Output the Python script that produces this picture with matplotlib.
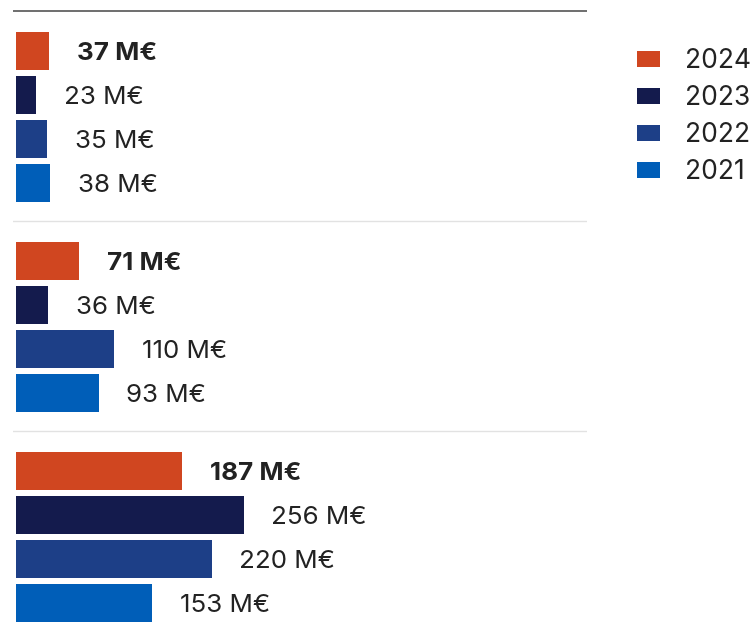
import matplotlib.pyplot as plt
from matplotlib.patches import Patch

plt.rcParams['font.family'] = ['Inter', 'DejaVu Sans']

years = ['2024', '2023', '2022', '2021']
colors = ['#d04620', '#141b4d', '#1d3f87', '#005eb8']

# one list per group, in the order 2024, 2023, 2022, 2021
group1 = [37, 23, 35, 38]
group2 = [71, 36, 110, 93]
group3 = [187, 256, 220, 153]
groups = [group1, group2, group3]

px = 0.889          # pixels per M€
group_step = 210 / 44
bar_h = 38 / 44

fig = plt.figure(figsize=(7.54, 6.4), dpi=100)
ax = fig.add_axes([13 / 754, 0, (587 - 13) / 754, 1])

for g, vals in enumerate(groups):
    base = g * group_step
    for i, v in enumerate(vals):
        y = base + i
        ax.barh(y, v, height=bar_h, color=colors[i], edgecolor='none')
        ax.annotate(f'{v} M€', (v, y), xytext=(20, -1.8), textcoords='offset points',
                    va='center', ha='left', fontsize=18.7, color='#222222',
                    fontweight='bold' if i == 0 else 'normal')
    # separator above each group
    ax.axhline(base - 0.909, color='#555555' if g == 0 else '#e2e2e2',
               lw=1.2 if g == 0 else 1.0)

ax.set_xlim(-3 / px, (587 - 16) / px)
ax.set_ylim((640 - 51) / 44, -51 / 44)
ax.axis('off')

handles = [Patch(facecolor=c, edgecolor='none', label=y) for c, y in zip(colors, years)]
fig.legend(handles=handles, loc='upper left', bbox_to_anchor=(624 / 754, 1 - 35 / 640),
           frameon=False, fontsize=19, handlelength=0.85, handleheight=0.58,
           handletextpad=0.95, labelspacing=0.42, labelcolor='#222222', borderpad=0)

fig.savefig('out.png', dpi=100)
